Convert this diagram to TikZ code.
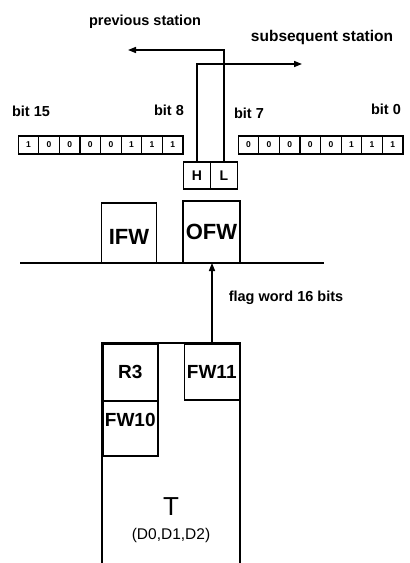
\documentclass[tikz,border=0pt]{standalone}
\usepackage{fontspec}
\setmainfont{Liberation Sans}
\usetikzlibrary{arrows.meta}
\begin{document}
\begin{tikzpicture}[x=1pt,y=-1pt,
  ln/.style={line width=1.5pt},
  cell/.style={draw,line width=1.3pt,minimum width=20.6pt,minimum height=18pt,inner sep=0pt,font=\fontsize{8.5}{9}\selectfont\bfseries},
  lbl/.style={font=\fontsize{14.5}{16}\selectfont\bfseries,inner sep=0pt},
  box/.style={draw,line width=1.5pt,inner sep=0pt,font=\fontsize{22}{24}\selectfont\bfseries},
  sbox/.style={draw,line width=1.5pt,inner sep=0pt,font=\fontsize{19}{21}\selectfont\bfseries},
  hl/.style={draw,line width=1.5pt,inner sep=0pt,minimum width=27pt,minimum height=27pt,font=\fontsize{14}{15}\selectfont\bfseries},
  arr/.style={ln,-{Triangle[length=8pt,width=6pt]}}]
\useasboundingbox (0,0) rectangle (410,563);
% labels top
\node[lbl] (prev) at (145,22) {previous station};
\node[lbl,font=\fontsize{15.5}{17}\selectfont\bfseries] (subs) at (322,37) {subsequent station};
\node[lbl] (b15) at (31,111) {bit 15};
\node[lbl] (b8) at (169,110) {bit 8};
\node[lbl] (b7) at (249,113) {bit 7};
\node[lbl] (b0) at (386,109) {bit 0};
% bit rows
\foreach \v [count=\i from 0] in {1,0,0,0,0,1,1,1}{
  \node[cell] (l\i) at ({28.5+20.6*\i},145) {\v};
}
\foreach \v [count=\i from 0] in {0,0,0,0,0,1,1,1}{
  \node[cell] (r\i) at ({248.5+20.6*\i},145) {\v};
}
% H L boxes
\node[hl] (H) at (197,175.5) {H};
\node[hl] (L) at (224,175.5) {L};
\coordinate (pa) at (224,50);
\coordinate (pe) at (128,50);
\coordinate (sa) at (197,64);
\coordinate (se) at (302,64);
\draw[arr] (L.north) -- (pa) -- (pe);
\draw[arr] (H.north) -- (sa) -- (se);
% IFW OFW
\node[box,minimum width=55pt,minimum height=60pt,text height=22pt] (IFW) at (129,233) {IFW};
\node[box,minimum width=57pt,minimum height=62pt] (OFW) at (211.5,232) {OFW};
\coordinate (busl) at (20,263);
\coordinate (busr) at (324,263);
\draw[ln] (busl) -- (busr);
% lower block
\coordinate (bl) at (102,563);
\coordinate (br) at (240,563);
\coordinate (tl) at (102,343);
\coordinate (tr) at (240,343);
\draw[ln] (bl) -- (tl) -- (tr) -- (br);
\node[sbox,minimum width=55pt,minimum height=57pt,anchor=north west] (R3) at (102,343) {R3};
\node[sbox,minimum width=55pt,minimum height=55pt,anchor=north west,text depth=16pt] (FW10) at (102,400) {FW10};
\node[sbox,minimum width=55pt,minimum height=56pt,anchor=north east] (FW11) at (240,343) {FW11};
\coordinate (fa) at (212,343);
\draw[arr] (fa) -- (fa |- busl);
\node[lbl] (flag) at (286,298) {flag word 16 bits};
\node[inner sep=0pt,font=\fontsize{26}{28}\selectfont] (T) at (171,507) {T};
\node[inner sep=0pt,font=\fontsize{15.5}{17}\selectfont] (D) at (171,535) {(D0,D1,D2)};
\end{tikzpicture}
\end{document}
